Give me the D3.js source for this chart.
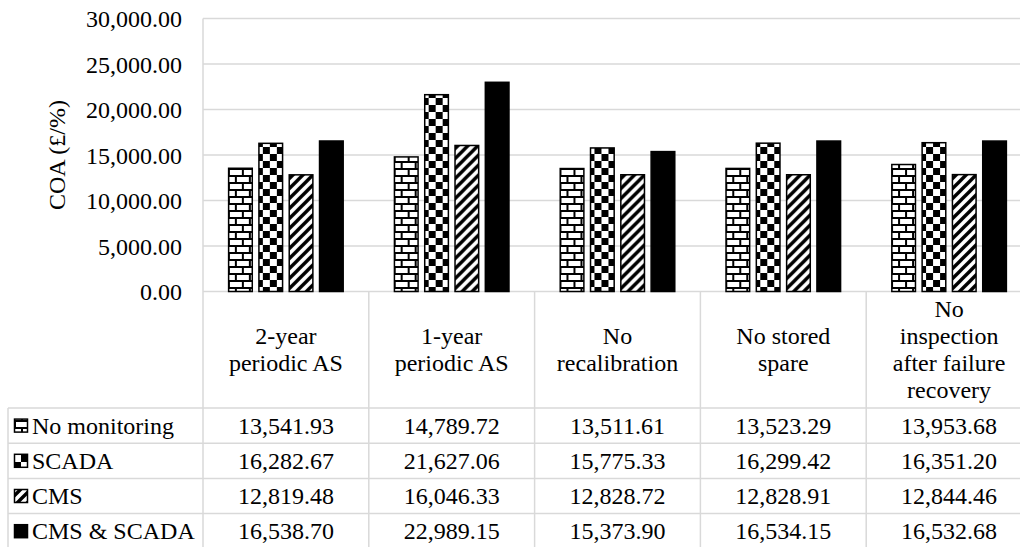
<!DOCTYPE html>
<html>
<head>
<meta charset="utf-8">
<script src="https://cdn.jsdelivr.net/npm/d3@7/dist/d3.min.js"></script>
<style>
  html, body { margin: 0; padding: 0; background: #fff; }
  svg { display: block; font-family: "Liberation Serif", "Times New Roman", serif; }
</style>
</head>
<body>
<svg id="chart" width="1020" height="547"></svg>
<script>
const categories = [
  ["2-year", "periodic AS"],
  ["1-year", "periodic AS"],
  ["No", "recalibration"],
  ["No stored", "spare"],
  ["No", "inspection", "after failure", "recovery"]
];
const seriesNames = ["No monitoring", "SCADA", "CMS", "CMS & SCADA"];
const noMonitoring = [13541.93, 14789.72, 13511.61, 13523.29, 13953.68];
const scada        = [16282.67, 21627.06, 15775.33, 16299.42, 16351.20];
const cms          = [12819.48, 16046.33, 12828.72, 12828.91, 12844.46];
const cmsScada     = [16538.70, 22989.15, 15373.90, 16534.15, 16532.68];
const yTicks = [0, 5000, 10000, 15000, 20000, 25000, 30000];

const seriesValues = [noMonitoring, scada, cms, cmsScada];
const fills = ["url(#brick)", "url(#checker)", "url(#stripes)", "#000"];

const svg = d3.select("#chart");
const grid = "#d9d9d9";
const fontSize = 24;

// patterns
const defs = svg.append("defs");
const brick = defs.append("pattern").attr("id", "brick").attr("patternUnits", "userSpaceOnUse")
  .attr("width", 14).attr("height", 14);
brick.append("rect").attr("width", 14).attr("height", 14).attr("fill", "#fff");
brick.append("path").attr("d", "M0,1 H14 M0,8 H14 M1,1 V8 M8,8 V14")
  .attr("stroke", "#000").attr("stroke-width", 2).attr("fill", "none");

const checker = defs.append("pattern").attr("id", "checker").attr("patternUnits", "userSpaceOnUse")
  .attr("width", 14).attr("height", 14);
checker.append("rect").attr("width", 14).attr("height", 14).attr("fill", "#fff");
checker.append("rect").attr("width", 7).attr("height", 7).attr("fill", "#000");
checker.append("rect").attr("x", 7).attr("y", 7).attr("width", 7).attr("height", 7).attr("fill", "#000");

const stripes = defs.append("pattern").attr("id", "stripes").attr("patternUnits", "userSpaceOnUse")
  .attr("width", 10).attr("height", 10);
stripes.append("rect").attr("width", 10).attr("height", 10).attr("fill", "#fff");
stripes.append("path").attr("d", "M-3,3 L3,-3 M0,10 L10,0 M7,13 L13,7")
  .attr("stroke", "#000").attr("stroke-width", 3.4).attr("fill", "none");

// scales
const plotLeft = 203, plotRight = 1032, plotTop = 18.5, plotBottom = 291.5;
const x0 = d3.scaleBand().domain(d3.range(categories.length))
  .range([plotLeft, plotRight]).paddingInner(0.3).paddingOuter(0.15);
const x1 = d3.scaleBand().domain(d3.range(seriesNames.length))
  .range([0, x0.bandwidth()]).paddingInner(0.17).paddingOuter(0);
const y = d3.scaleLinear().domain([0, 30000]).range([plotBottom, plotTop]);
const step = x0.step();
const colLeft = i => x0(i) - step * 0.15;

// gridlines
svg.append("g").selectAll("line").data(yTicks).join("line")
  .attr("x1", plotLeft).attr("x2", plotRight)
  .attr("y1", d => y(d)).attr("y2", d => y(d))
  .attr("stroke", grid).attr("stroke-width", 1.5);

// y axis labels
const yAxis = svg.append("g").attr("transform", `translate(${plotLeft - 21},0)`)
  .call(d3.axisLeft(y).tickValues(yTicks).tickFormat(d3.format(",.2f")).tickSize(0).tickPadding(0));
yAxis.select(".domain").remove();
yAxis.selectAll("text").attr("font-size", fontSize).attr("fill", "#000")
  .attr("font-family", "Liberation Serif").attr("dy", "0.35em");

// y title
svg.append("text").attr("transform", `translate(65,${(plotTop + plotBottom) / 2}) rotate(-90)`)
  .attr("text-anchor", "middle").attr("font-size", fontSize).text("COA (£/%)");

// table lines
const tableTop = plotBottom, headerBottom = 408, rowH = 35.2, tableLeft = 8;
const rowTops = d3.range(seriesNames.length).map(i => headerBottom + i * rowH);
svg.append("line").attr("x1", plotLeft).attr("x2", plotLeft).attr("y1", plotTop).attr("y2", 547)
  .attr("stroke", grid).attr("stroke-width", 1.5);
svg.append("g").selectAll("line").data(d3.range(1, categories.length)).join("line")
  .attr("x1", i => colLeft(i)).attr("x2", i => colLeft(i))
  .attr("y1", tableTop).attr("y2", 547).attr("stroke", grid).attr("stroke-width", 1.5);
svg.append("g").selectAll("line").data(rowTops).join("line")
  .attr("x1", tableLeft).attr("x2", plotRight).attr("y1", d => d).attr("y2", d => d)
  .attr("stroke", grid).attr("stroke-width", 1.5);
svg.append("line").attr("x1", tableLeft).attr("x2", tableLeft).attr("y1", headerBottom).attr("y2", 547)
  .attr("stroke", grid).attr("stroke-width", 1.5);

// bars
const groups = svg.append("g").selectAll("g").data(categories).join("g")
  .attr("transform", (d, i) => `translate(${x0(i)},0)`);
groups.selectAll("rect").data((d, i) => seriesValues.map((s, k) => ({ k, v: s[i] }))).join("rect")
  .attr("x", d => x1(d.k) + 0.75).attr("width", x1.bandwidth() - 1.5)
  .attr("y", d => y(d.v)).attr("height", d => y(0) - y(d.v))
  .attr("fill", d => fills[d.k]).attr("stroke", "#000").attr("stroke-width", 1.5);

// header labels
const lineH = 27;
svg.append("g").selectAll("text").data(categories).join("text")
  .attr("text-anchor", "middle").attr("font-size", fontSize)
  .each(function (lines, i) {
    const cx = x0(i) + x0.bandwidth() / 2;
    d3.select(this).selectAll("tspan").data(lines).join("tspan")
      .attr("x", cx).attr("y", (l, j) => 357 + (j - (lines.length - 1) / 2) * lineH).text(l => l);
  });

// table rows
const fmt = d3.format(",.2f");
seriesNames.forEach((name, k) => {
  const cy = rowTops[k] + rowH / 2;
  svg.append("rect").attr("x", 14.5).attr("y", cy - 6.5).attr("width", 13).attr("height", 13)
    .attr("fill", fills[k]).attr("stroke", "#000").attr("stroke-width", 1.5);
  svg.append("text").attr("x", 32).attr("y", cy + 8).attr("font-size", fontSize).text(name);
  svg.append("g").selectAll("text").data(seriesValues[k]).join("text")
    .attr("x", (v, i) => x0(i) + x0.bandwidth() / 2).attr("y", cy + 8)
    .attr("text-anchor", "middle").attr("font-size", fontSize).text(v => fmt(v));
});
</script>
</body>
</html>
